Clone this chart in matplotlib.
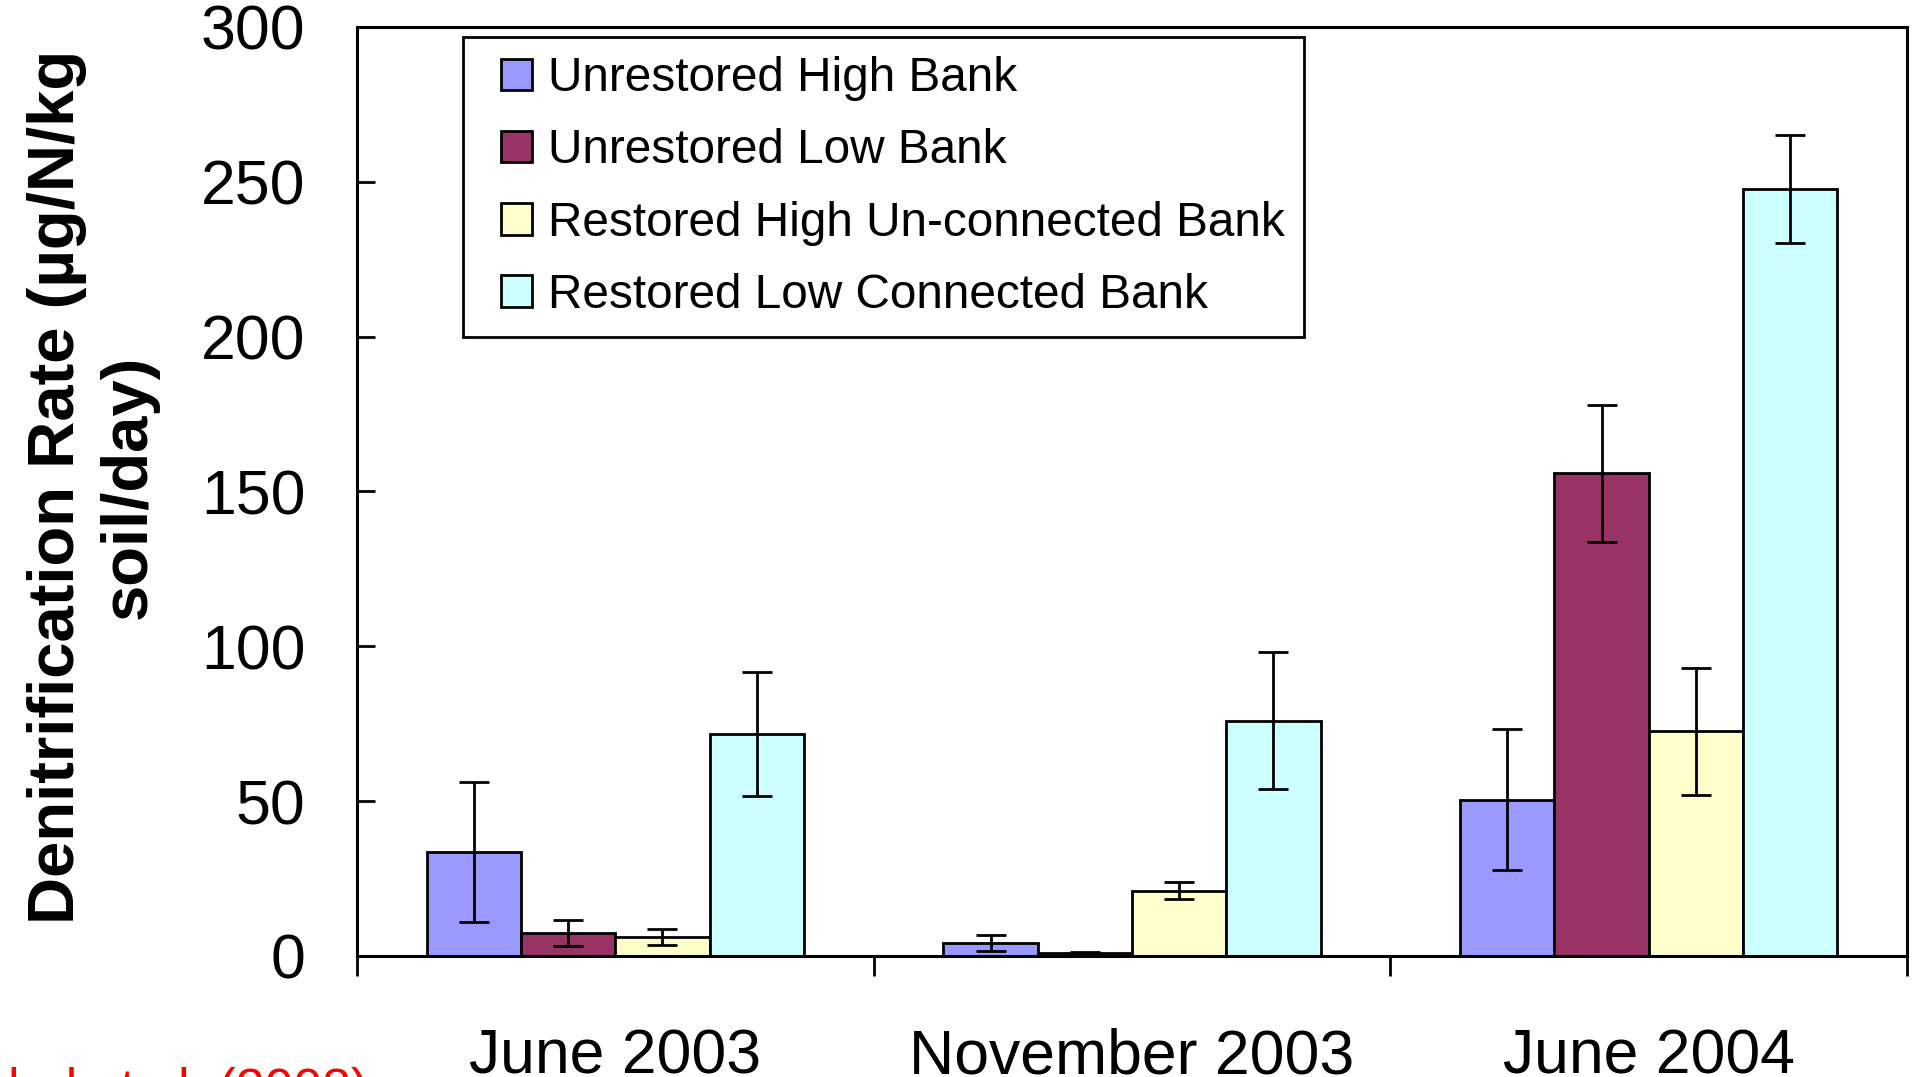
import numpy as np
import matplotlib.pyplot as plt
import matplotlib.patches as mpatches
from matplotlib.container import BarContainer
from matplotlib.legend_handler import HandlerPatch

plt.rcParams['font.family'] = ['Liberation Sans', 'DejaVu Sans']

# data
periods = ["June 2003", "November 2003", "June 2004"]
series = ["Unrestored High Bank", "Unrestored Low Bank",
          "Restored High Un-connected Bank", "Restored Low Connected Bank"]
uhb = [33.7, 4.3, 50.5]
ulb = [7.5, 0.8, 155.9]
rhub = [6.2, 21.1, 72.6]
rlcb = [71.7, 76.0, 247.7]
uhb_err = [22.6, 2.6, 22.7]
ulb_err = [4.2, 0.4, 22.1]
rhub_err = [2.6, 2.7, 20.5]
rlcb_err = [20.1, 22.1, 17.4]
colors = ["#9999FF", "#993366", "#FFFFCC", "#CCFFFF"]
yticks = [0, 50, 100, 150, 200, 250, 300]

values = [uhb, ulb, rhub, rlcb]
errors = [uhb_err, ulb_err, rhub_err, rlcb_err]

fig = plt.figure(figsize=(19.17, 10.77), dpi=100)
ax = fig.add_axes([0.1862, 0.1124, 0.8086, 0.8626])

x = np.arange(len(periods))
w = 0.1825
for i in range(len(series)):
    pos = x + (i - 1.5) * w
    ax.bar(pos, values[i], width=w, color=colors[i], edgecolor="black",
           linewidth=2, label=series[i], zorder=2)
    ax.errorbar(pos, values[i], yerr=errors[i], fmt="none", ecolor="black",
                elinewidth=2, capsize=11, capthick=2, zorder=3)

ax.set_xlim(-0.5, 2.5)
ax.set_ylim(0, 300)
ax.set_yticks(yticks)
ax.tick_params(axis="y", direction="in", length=13, width=2, pad=37, labelsize=45)
ax.set_xticks([-0.5, 0.5, 1.5, 2.5])
ax.set_xticklabels([])
ax.tick_params(axis="x", which="major", direction="out", length=14.4, width=2)
ax.set_xticks(x, minor=True)
ax.set_xticklabels(periods, minor=True)
ax.tick_params(axis="x", which="minor", length=0, pad=51.5, labelsize=45)
for s in ax.spines.values():
    s.set_linewidth(2.2)


# small square handle with some room on its left, like the original legend
def square(legend, orig_handle, xdescent, ydescent, width, height, fontsize):
    return mpatches.Rectangle((-xdescent + width - height, -ydescent), height, height)


def from_first_bar(legend_handle, orig_handle):
    legend_handle.update_from(orig_handle.patches[0])


leg = ax.legend(loc="upper left", bbox_to_anchor=(0.2415, 0.9656),
                bbox_transform=fig.transFigure, borderaxespad=0,
                fontsize=34.4, frameon=True, fancybox=False, framealpha=1,
                edgecolor="black", borderpad=0.4, labelspacing=0.57,
                handlelength=1.05, handleheight=0.64, handletextpad=0.32,
                handler_map={BarContainer: HandlerPatch(patch_func=square,
                                                        update_func=from_first_bar)})
leg.get_frame().set_linewidth(2)
for p in leg.get_patches():
    p.set_linewidth(2)

fig.text(0.0485, 0.5478, "Denitrification Rate (µg/N/kg\nsoil/day)", rotation=90,
         ha="center", va="center", multialignment="center",
         fontsize=47, fontweight="bold", linespacing=1.25)

fig.text(-0.0574, -0.026, "Kaushal et al. (2008)", color="#FF0000",
         fontsize=37.3, ha="left", va="baseline")

fig.savefig("out.png", dpi=100)
